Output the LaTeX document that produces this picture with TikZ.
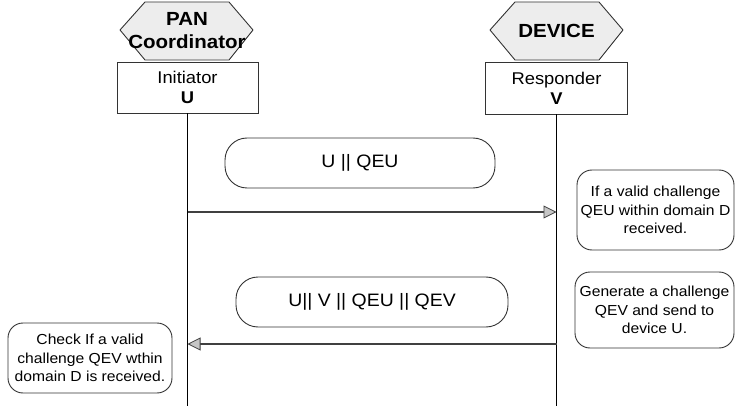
\documentclass[tikz,border=0pt]{standalone}
\usepackage{fontspec}
\setmainfont{Liberation Sans}[FakeStretch=1.08]
\usetikzlibrary{arrows.meta}

\tikzset{
  hexa/.style={draw=black!80, fill=gray!14, line width=0.9pt, line join=round},
  hexlabel/.style={align=center, font=\fontsize{19}{23}\selectfont\bfseries, inner sep=0pt},
  rolebox/.style={draw=black!80, line width=0.9pt, align=center, inner sep=0pt,
    font=\fontsize{17}{20}\selectfont},
  msgbox/.style={draw=black!80, line width=0.9pt, rounded corners=22pt, inner sep=0pt,
    font=\fontsize{18}{22}\selectfont},
  notebox/.style={draw=black!80, line width=0.9pt, rounded corners=15pt, inner sep=0pt,
    align=center, font=\fontsize{14.5}{18.5}\selectfont},
  lifeline/.style={line width=1.5pt, black},
  msgarrow/.style={line width=1.8pt, black!75,
    -{Triangle[length=13pt,width=13pt,fill=gray!45,line width=0.8pt]}},
}

\begin{document}
\begin{tikzpicture}[x=1pt,y=-1pt]
\useasboundingbox (0,0) rectangle (736,406);

% actor hexagons
\draw[hexa] (120,30) -- (145,2) -- (229,2) -- (253,30) -- (229,60) -- (145,60) -- cycle;
\node[hexlabel] (pan) at (187,31) {PAN\\Coordinator};
\draw[hexa] (490,30) -- (515,2) -- (599,2) -- (623,30) -- (599,60) -- (515,60) -- cycle;
\node[hexlabel] (dev) at (556.5,31) {DEVICE};

% role boxes
\node[rolebox, minimum width=141pt, minimum height=51pt] (ini) at (187.5,87.5)
  {Initiator\\\textbf{U}};
\node[rolebox, minimum width=142pt, minimum height=52pt] (res) at (556.5,88)
  {Responder\\\textbf{V}};

% lifelines
\coordinate (uend) at (187.5,406);
\coordinate (vend) at (556.5,406);
\draw[lifeline] (ini.south) -- (uend);
\draw[lifeline] (res.south) -- (vend);

% messages
\node[msgbox, minimum width=270pt, minimum height=50pt] (m1) at (360,163) {U || QEU};
\node[msgbox, minimum width=272pt, minimum height=50pt] (m2) at (372,302) {U|| V || QEU || QEV};

\coordinate (u1) at (187.5,212);
\coordinate (v1) at (556.5,212);
\coordinate (v2) at (556.5,344);
\coordinate (u2) at (187.5,344);
\draw[msgarrow] (u1) -- (v1);
\draw[msgarrow] (v2) -- (u2);

% notes
\node[notebox, minimum width=157pt, minimum height=80pt] (n1) at (655.5,210)
  {If a valid challenge\\QEU within domain D\\received.};
\node[notebox, minimum width=159pt, minimum height=76pt] (n2) at (654.5,310)
  {Generate a challenge\\QEV and send to\\device U.};
\node[notebox, minimum width=164pt, minimum height=70pt] (n3) at (90,358)
  {Check If a valid\\challenge QEV wthin\\domain D is received.};
\end{tikzpicture}
\end{document}
